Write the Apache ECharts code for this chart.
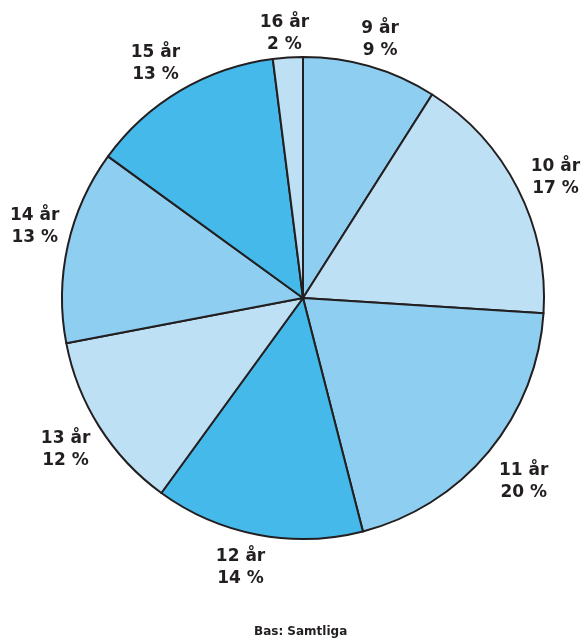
<!DOCTYPE html>
<html><head><meta charset="utf-8">
<script src="https://cdn.jsdelivr.net/npm/echarts@6/dist/echarts.min.js"></script>
<style>html,body{margin:0;padding:0;background:#fff}#c{width:581px;height:640px}</style>
</head><body><div id="c"></div>
<script>
const categories = ['9 år','10 år','11 år','12 år','13 år','14 år','15 år','16 år'];
const values = [9,17,20,14,12,13,13,2];
const colors = ['#8ECEF0','#BEE0F5','#8ECEF0','#45B9EA','#BEE0F5','#8ECEF0','#45B9EA','#BEE0F5'];
const footer = 'Bas: Samtliga';
// small label nudges (layout only)
const labelNudge = [[-1,10],[3,7],[5,5],[-10,-5],[-1,2],[5,-10],[-5,7],[-1,15]];

const chart = echarts.init(document.getElementById('c'), null, {renderer:'canvas'});
const data = categories.map((c,i)=>({name:c, value:values[i], itemStyle:{color:colors[i]}}));
const labelData = categories.map((c,i)=>({name:c, value:values[i], label:{offset:labelNudge[i]}}));
chart.setOption({
  animation:false,
  graphic:[{type:'text', left:254, top:626, style:{text:footer, font:'bold 12px "DejaVu Sans"', fill:'#231F20'}}],
  series:[
    {type:'pie', center:[303,298], radius:[0,241], startAngle:90, clockwise:true,
     silent:true, label:{show:false}, labelLine:{show:false},
     itemStyle:{borderColor:'#231F20', borderWidth:2},
     data:data},
    {type:'pie', center:[303,298], radius:[262,292], startAngle:90, clockwise:true,
     silent:true, itemStyle:{color:'transparent', borderWidth:0},
     label:{show:true, position:'inside', rotate:0, formatter:'{b}\n{c} %', fontFamily:'DejaVu Sans', fontWeight:'bold', fontSize:17, lineHeight:22, color:'#231F20', align:'center'},
     labelLine:{show:false},
     data:labelData}
  ]
});
</script></body></html>
